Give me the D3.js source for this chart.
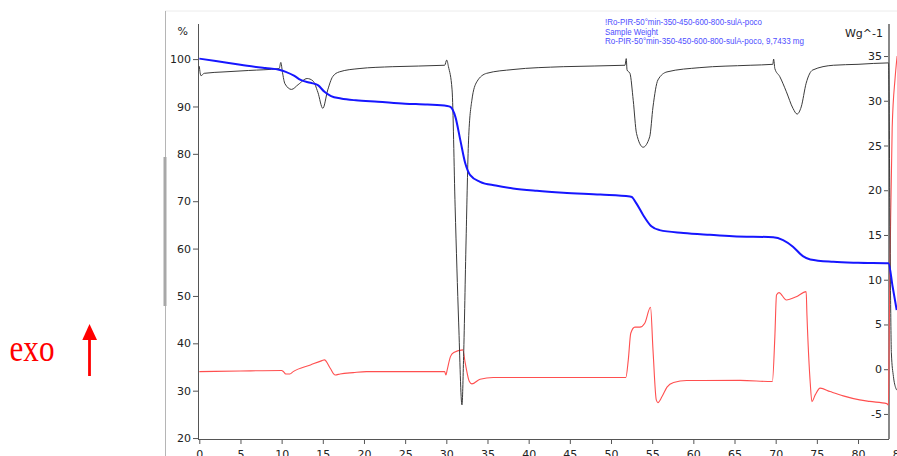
<!DOCTYPE html>
<html>
<head>
<meta charset="utf-8">
<script src="https://cdn.jsdelivr.net/npm/d3@7"></script>
<style>
  html, body { margin: 0; padding: 0; background: #fff; overflow: hidden; }
  svg { display: block; }
</style>
</head>
<body>
<svg id="chart" width="897" height="456"></svg>
<script>
// ---------- DATA ----------
// Time axis (min)
const xTicks = [0,5,10,15,20,25,30,35,40,45,50,55,60,65,70,75,80,85];
const leftTicks = [20,30,40,50,60,70,80,90,100];          // %
const rightTicks = [-5,0,5,10,15,20,25,30,35];            // Wg^-1

// Sample weight (TG), % — blue
const tgTime  = [0,2,5,8,9.8,10.5,11.5,12.3,13.5,14.4,15.2,16.0,17.2,19,21.7,25,27.7,30.1,30.5,31.1,31.7,32.3,32.9,34.1,36,38.1,41,44.2,48.7,52.3,52.5,53.1,53.9,54.9,55.9,58.8,62,64.8,69.7,70.9,72.1,73.3,74.2,77.0,80,83.7,84.2,84.7];
const tgValue = [100.1,99.6,98.8,98.1,97.7,97.3,96.5,95.6,95.0,94.5,93.1,92.2,91.7,91.3,91.0,90.6,90.4,90.1,89.9,87.8,82.9,78.0,75.5,74.1,73.3,72.7,72.2,71.8,71.4,71.0,70.9,69.5,67.1,64.7,63.9,63.3,62.9,62.6,62.4,61.8,60.4,58.4,57.7,57.2,57.0,56.9,52.0,47.0];

// Derivative curve — black (plotted against % axis)
const dtgTime  = [0,0.2,0.6,3,6,9.7,9.9,10.1,10.4,11.2,12.0,13.1,13.8,14.4,15.0,15.6,16.2,17.0,19.4,23.5,29.8,30.05,30.26,30.7,31.07,31.5,31.9,32.1,32.4,32.7,33.1,33.7,34.9,38.1,44.2,51.7,51.85,51.95,52.3,52.7,53.1,53.9,54.7,55.1,55.7,56.8,60.8,66.9,69.65,69.75,69.9,70.5,71.3,72.1,72.6,73.1,73.7,74.5,77.0,80,83.7,83.95,84.05,84.3,84.6,84.8];
const dtgValue = [98.5,96.5,97.0,97.3,97.6,98.0,99.3,97.2,94.8,93.6,94.6,95.9,95.4,93.0,89.6,93.5,96.3,97.3,98.0,98.4,98.7,99.8,98.4,93.5,68.8,44.3,27.0,37.2,61.8,82.9,91.3,95.2,97.0,97.8,98.4,98.7,100.1,97.7,97.0,91.3,84.3,81.4,83.6,89.9,95.6,97.3,98.2,98.7,98.9,100.0,98.0,96.3,93.1,89.6,88.4,89.9,94.9,97.7,98.7,98.9,99.2,50,38,33,30.5,30.0];

// Heat flow, Wg^-1 — red
const hfTime  = [0,5,10,10.2,10.5,11.0,11.4,13.5,14.9,15.2,15.9,16.5,17.1,18.7,20.3,29.8,29.95,30.1,30.5,30.9,32.0,32.3,32.8,33.1,34.1,35.7,51.8,52.1,52.4,52.9,53.5,54.1,54.8,55.1,55.5,55.7,56.2,56.8,57.6,59.2,65.7,69.6,69.9,70.1,70.4,71.3,72.5,73.7,73.8,74.2,74.4,74.8,75.4,76.6,78.2,80.2,81.4,83.5,83.7,83.8,83.95,84.15,84.5,84.75];
const hfValue = [-0.27,-0.2,-0.15,-0.25,-0.53,-0.53,-0.27,0.48,0.96,1.04,0.11,-0.64,-0.53,-0.38,-0.27,-0.27,-0.64,-0.1,1.41,1.86,2.16,0.67,-1.38,-1.64,-1.12,-0.93,-0.93,1.04,4.02,4.7,4.7,5.14,6.92,2.16,-3.43,-3.73,-3.06,-2.01,-1.49,-1.27,-1.25,-1.38,3.64,8.3,8.56,7.74,8.1,8.67,6.0,-1.57,-3.62,-2.87,-2.12,-2.5,-2.98,-3.43,-3.6,-3.85,-4.0,5,16,27,32.5,35];

const legendLines = [
  "!Ro-PIR-50°min-350-450-600-800-sulA-poco",
  "Sample Weight",
  "Ro-PIR-50°min-350-450-600-800-sulA-poco, 9,7433 mg"
];

// ---------- LAYOUT ----------
const svg = d3.select("#chart");
const X0 = 199.3, PXMIN = 8.234;
const x  = d3.scaleLinear().domain([0, 83.75]).range([X0, X0 + 83.75 * PXMIN]);
const yL = d3.scaleLinear().domain([19.8, 107.2]).range([439, 25]);
const yR = d3.scaleLinear().domain([-7.8, 38.5]).range([439, 24.7]);
const axisLeftX = 198, axisRightX = 889, axisBottomY = 439;
const font = "DejaVu Sans, Verdana, sans-serif";

// frame decorations
svg.append("line").attr("x1",165).attr("x2",897).attr("y1",11).attr("y2",11)
  .attr("stroke","#ececec").attr("stroke-width",1);
svg.append("line").attr("x1",165.5).attr("x2",165.5).attr("y1",11).attr("y2",456)
  .attr("stroke","#b5b5b5").attr("stroke-width",1);
svg.append("rect").attr("x",163.5).attr("y",157).attr("width",3).attr("height",149)
  .attr("fill","#a8a8a8");

// ---------- AXES ----------
function styleAxis(g) {
  g.selectAll("path.domain").remove();
  g.selectAll("line").attr("stroke","#555");
  g.selectAll("text").attr("fill","#222").style("font-family",font).style("font-size","11px");
}
// left axis
const gL = svg.append("g").attr("transform",`translate(${axisLeftX},0)`);
gL.call(d3.axisLeft(yL).tickValues(d3.range(20,107,2)).tickSize(3).tickFormat(""));
gL.call(d3.axisLeft(yL).tickValues(leftTicks).tickSize(5).tickPadding(2).tickFormat(d3.format("d")));
styleAxis(gL);
svg.append("line").attr("x1",axisLeftX+0.5).attr("x2",axisLeftX+0.5).attr("y1",24).attr("y2",axisBottomY)
  .attr("stroke","#555");
svg.append("text").attr("x",188).attr("y",35).attr("text-anchor","end")
  .style("font-family",font).style("font-size","11px").attr("fill","#222").text("%");

// right axis
const gR = svg.append("g").attr("transform",`translate(${axisRightX},0)`);
gR.call(d3.axisLeft(yR).tickValues(d3.range(-7,39,1)).tickSize(3).tickFormat(""));
gR.call(d3.axisLeft(yR).tickValues(rightTicks).tickSize(5).tickPadding(2).tickFormat(d3.format("d")));
styleAxis(gR);
gR.selectAll("text").text(d => d < 0 ? "-" + Math.abs(d) : d);
svg.append("line").attr("x1",axisRightX).attr("x2",axisRightX).attr("y1",24).attr("y2",axisBottomY)
  .attr("stroke","#888").attr("stroke-width",2);
svg.append("text").attr("x",883).attr("y",37).attr("text-anchor","end")
  .style("font-family",font).style("font-size","11px").attr("fill","#222").text("Wg^-1");

// bottom axis
const gB = svg.append("g").attr("transform",`translate(0,${axisBottomY})`);
gB.call(d3.axisBottom(x).tickValues(d3.range(0,84,1)).tickSize(3).tickFormat(""));
gB.call(d3.axisBottom(x).tickValues(xTicks).tickSize(5).tickPadding(6).tickFormat(d3.format("d")));
styleAxis(gB);
svg.append("line").attr("x1",axisLeftX).attr("x2",axisRightX).attr("y1",axisBottomY+0.5).attr("y2",axisBottomY+0.5)
  .attr("stroke","#555");

// ---------- SERIES ----------
const lineL = d3.line().x(d => x(d[0])).y(d => yL(d[1])).curve(d3.curveMonotoneX);
const lineR = d3.line().x(d => x(d[0])).y(d => yR(d[1])).curve(d3.curveMonotoneX);

svg.append("path").datum(hfTime.map((t,i) => [t, hfValue[i]]))
  .attr("d", lineR).attr("fill","none").attr("stroke","#ff4f4f").attr("stroke-width",1.1);
svg.append("path").datum(dtgTime.map((t,i) => [t, dtgValue[i]]))
  .attr("d", lineL).attr("fill","none").attr("stroke","#3a3a3a").attr("stroke-width",1);
svg.append("path").datum(tgTime.map((t,i) => [t, tgValue[i]]))
  .attr("d", lineL).attr("fill","none").attr("stroke","#1616ff").attr("stroke-width",2);

// ---------- LEGEND ----------
const legendLen = [157, 53, 199];
const legendY = [25, 34.5, 44];
legendLines.forEach((s,i) => {
  svg.append("text").attr("x",605).attr("y",legendY[i])
    .attr("textLength", legendLen[i]).attr("lengthAdjust","spacingAndGlyphs")
    .style("font-family","Liberation Sans, Arial, sans-serif").style("font-size","8.5px")
    .attr("fill","#4d4dff").text(s);
});

// ---------- EXO ANNOTATION ----------
svg.append("text").attr("transform","translate(9.5,360.5) scale(1,1.25)")
  .attr("textLength",45).attr("lengthAdjust","spacingAndGlyphs")
  .style("font-family","Liberation Serif, Times New Roman, serif").style("font-size","31px")
  .attr("fill","#ff0000").text("exo");
svg.append("line").attr("x1",89.5).attr("x2",89.5).attr("y1",376).attr("y2",336)
  .attr("stroke","#ff0000").attr("stroke-width",2.8);
svg.append("path").attr("d", d3.line()([[82.3,340],[89.5,324],[97,340]]) + "Z")
  .attr("fill","#ff0000");
</script>
</body>
</html>
